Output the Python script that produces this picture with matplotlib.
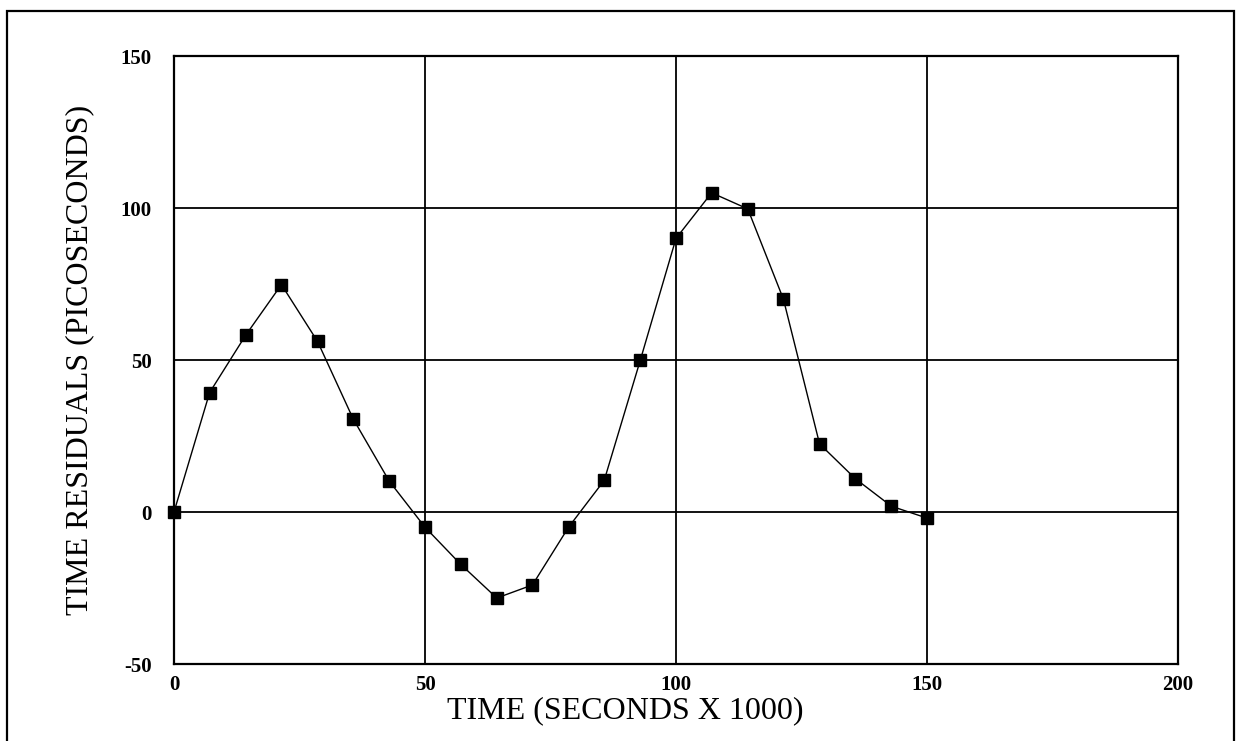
import matplotlib
matplotlib.use("Agg")
import matplotlib.pyplot as plt
from matplotlib.patches import Rectangle

time_k = [0, 7.1, 14.3, 21.4, 28.6, 35.7, 42.9, 50, 57.1, 64.3, 71.4,
          78.6, 85.7, 92.9, 100, 107.1, 114.3, 121.4, 128.6, 135.7, 142.9, 150]
residuals = [0, 39.3, 58.2, 74.8, 56.1, 30.6, 10.1, -5.0, -17.2, -28.3, -24.0,
             -5.0, 10.4, 50.0, 90.0, 105.0, 99.7, 70.0, 22.4, 11.0, 1.9, -2.0]
xticks = [0, 50, 100, 150, 200]
yticks = [-50, 0, 50, 100, 150]

plt.rcParams['font.family'] = ['Liberation Serif', 'DejaVu Serif']

fig = plt.figure(figsize=(12.41, 7.41), dpi=100)
ax = fig.add_axes([174/1241, (741-664)/741, (1178-174)/1241, (664-56)/741])

ax.plot(time_k, residuals, color='black', lw=1.0, marker='s', markersize=8,
        markerfacecolor='black', markeredgecolor='black', zorder=3, clip_on=False)

ax.set_xlim(0, 200)
ax.set_ylim(-50, 150)
ax.set_xticks(xticks)
ax.set_yticks(yticks)
ax.set_xticklabels([str(t) for t in xticks], fontsize=15, fontweight='bold')
ax.set_yticklabels([str(t) for t in yticks], fontsize=15, fontweight='bold')
ax.tick_params(length=0)
ax.tick_params(axis='x', pad=8)
ax.tick_params(axis='y', pad=16)
ax.grid(True, color='black', lw=1.3)
ax.set_axisbelow(True)
for s in ax.spines.values():
    s.set_linewidth(1.6)
    s.set_color('black')

fig.text(625/1241, 1 - 711/741, 'TIME (SECONDS X 1000)', ha='center', va='center', fontsize=23)
fig.text(80/1241, 1 - 360/741, 'TIME RESIDUALS (PICOSECONDS)', ha='center', va='center',
         rotation=90, fontsize=23)

fig.patches.append(Rectangle((7/1241, -0.05), (1234-7)/1241, 1.05 - 11/741,
                             transform=fig.transFigure, fill=False, lw=1.6,
                             edgecolor='black'))

fig.savefig('out.png', dpi=100)
